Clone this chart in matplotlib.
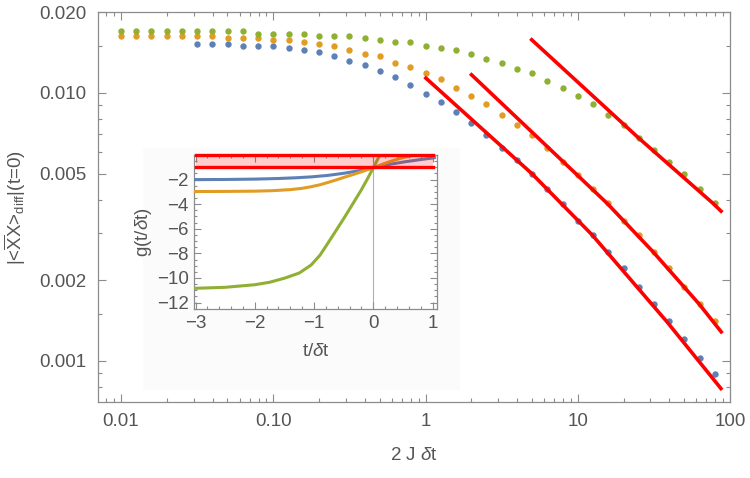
import matplotlib
matplotlib.use('Agg')
import matplotlib.pyplot as plt
import matplotlib.patches as mpatches
from matplotlib.ticker import FixedLocator, NullFormatter

plt.rcParams['font.family'] = ['Liberation Sans', 'DejaVu Sans']
plt.rcParams['mathtext.fontset'] = 'custom'
plt.rcParams['mathtext.rm'] = 'Liberation Sans'
plt.rcParams['mathtext.it'] = 'Liberation Sans:italic'

# x grid of the dots (2 J dt), 0.01 ... 79.4
dt = [0.0100, 0.0126, 0.0158, 0.0200, 0.0251, 0.0316, 0.0398, 0.0501, 0.0631, 0.0794,
      0.100, 0.126, 0.158, 0.200, 0.251, 0.316, 0.398, 0.501, 0.631, 0.794,
      1.00, 1.26, 1.58, 2.00, 2.51, 3.16, 3.98, 5.01, 6.31, 7.94,
      10.0, 12.6, 15.8, 20.0, 25.1, 31.6, 39.8, 50.1, 63.1, 79.4]

# blue starts at dt[5]
blue = [0.01523, 0.01523, 0.01523, 0.01498, 0.01498, 0.01498, 0.01472, 0.01447, 0.01419, 0.01371,
        0.01321, 0.01277, 0.01208, 0.01145, 0.01067, 0.00994, 0.00926, 0.00846, 0.00773, 0.00694,
        0.00624, 0.00562, 0.00497, 0.00437, 0.00386, 0.00334, 0.00295, 0.002557, 0.002217, 0.001888,
        0.001636, 0.001414, 0.001205, 0.001024, 0.000893]
orange = [0.01638, 0.01638, 0.01638, 0.01638, 0.01638, 0.01638, 0.01638, 0.01610, 0.01610, 0.01610,
          0.01577, 0.01577, 0.01550, 0.01523, 0.01498, 0.01443, 0.01395, 0.01371, 0.01299, 0.01253,
          0.01188, 0.01125, 0.01048, 0.00973, 0.00908, 0.00831, 0.00758, 0.00694, 0.00624, 0.00551,
          0.00494, 0.00437, 0.00387, 0.00334, 0.00295, 0.00255, 0.002217, 0.001893, 0.001632, 0.001414]
green = [0.01699, 0.01699, 0.01699, 0.01699, 0.01699, 0.01699, 0.01699, 0.01699, 0.01699, 0.01666,
         0.01666, 0.01666, 0.01666, 0.01638, 0.01638, 0.01638, 0.01610, 0.01577, 0.01550, 0.01550,
         0.01498, 0.01472, 0.01447, 0.01395, 0.01344, 0.01299, 0.01229, 0.01188, 0.01106, 0.01048,
         0.00975, 0.00908, 0.00831, 0.00760, 0.00682, 0.00612, 0.00551, 0.00497, 0.00438, 0.00387]

# red asymptotes
red1_x = [0.985, 5.03, 12.45, 38.6, 88.6]
red1_y = [0.01148, 0.00498, 0.00295, 0.001398, 0.000780]
red2_x = [1.964, 15.61, 31.3, 62.6, 89.0]
red2_y = [0.01182, 0.00387, 0.00255, 0.001632, 0.001269]
red3_x = [4.88, 24.9, 77.4, 89.0]
red3_y = [0.01596, 0.00682, 0.00387, 0.003584]

# inset curves g(t/dt)
in_blue_t = [-3.0, -2.5, -2.0, -1.6, -1.3, -1.05, -0.77, -0.49, -0.21, 0.0, 0.25, 0.52, 0.78, 1.03]
in_blue_g = [-2.0, -1.99, -1.96, -1.91, -1.85, -1.78, -1.66, -1.48, -1.25, -1.03, -0.78, -0.56, -0.38, -0.22]
in_orange_t = [-3.0, -2.5, -2.0, -1.7, -1.39, -1.2, -1.05, -0.9, -0.77, -0.63, -0.49, -0.35, -0.21,
               -0.1, 0.0, 0.15, 0.30, 0.45, 0.63, 0.8]
in_orange_g = [-2.97, -2.96, -2.94, -2.9, -2.81, -2.71, -2.58, -2.42, -2.24, -2.03, -1.81, -1.60, -1.38,
               -1.2, -1.03, -0.76, -0.5, -0.28, -0.07, 0.12]
in_green_t = [-3.0, -2.5, -2.0, -1.75, -1.5, -1.25, -1.05, -0.9, -0.77, -0.65, -0.49, -0.35, -0.21,
              -0.1, 0.0, 0.1, 0.2]
in_green_g = [-10.84, -10.76, -10.55, -10.35, -10.02, -9.6, -8.95, -8.15, -7.2, -6.3, -5.1, -4.0, -2.9,
              -1.95, -1.03, -0.1, 0.8]

C_BLUE = '#5E81B5'
C_ORANGE = '#E19C24'
C_GREEN = '#8FB032'
TXT = '#555555'
FRAME = '#8c8c8c'

fig = plt.figure(figsize=(7.5, 4.78), dpi=100)
ax = fig.add_axes([0.1303, 0.159, 0.8431, 0.8153])

ax.plot(dt[5:], blue, 'o', color=C_BLUE, ms=4.6, mec='none', zorder=3)
ax.plot(dt, orange, 'o', color=C_ORANGE, ms=4.6, mec='none', zorder=3)
ax.plot(dt, green, 'o', color=C_GREEN, ms=4.6, mec='none', zorder=3)
for xs, ys in [(red1_x, red1_y), (red2_x, red2_y), (red3_x, red3_y)]:
    ax.plot(xs, ys, color='red', lw=2.6, solid_capstyle='butt', zorder=4)

ax.set_xscale('log')
ax.set_yscale('log')
ax.set_xlim(0.00703, 100)
ax.set_ylim(0.000703, 0.0200)

ax.xaxis.set_major_locator(FixedLocator([0.01, 0.1, 1, 10, 100]))
ax.set_xticklabels(['0.01', '0.10', '1', '10', '100'])
xminor = [m * 10.0 ** e for e in range(-3, 2) for m in range(2, 10)]
ax.xaxis.set_minor_locator(FixedLocator(xminor))
ax.xaxis.set_minor_formatter(NullFormatter())
ax.yaxis.set_major_locator(FixedLocator([0.001, 0.002, 0.005, 0.01, 0.02]))
ax.set_yticklabels(['0.001', '0.002', '0.005', '0.010', '0.020'])
ax.yaxis.set_minor_locator(FixedLocator([0.0007, 0.0008, 0.0009, 0.0015, 0.003, 0.004,
                                         0.006, 0.007, 0.008, 0.009, 0.015]))
ax.yaxis.set_minor_formatter(NullFormatter())

ax.tick_params(which='both', direction='in', top=True, right=True, colors=FRAME,
               labelcolor=TXT, labelsize=13.5, width=0.8)
ax.tick_params(which='major', length=6, pad=8)
ax.tick_params(which='minor', length=3)
for s in ax.spines.values():
    s.set_color(FRAME)
    s.set_linewidth(0.9)

ax.set_xlabel('2 J $\\mathit{\\delta}$t', fontsize=13.5, color=TXT, labelpad=12)
ax.set_ylabel('|<$\\overline{\\mathrm{X}}$X>$_{\\mathrm{diff}}$|(t=0)',
              fontsize=13.5, color=TXT, labelpad=8)

# faint backdrop behind the inset
fig.patches.append(mpatches.Rectangle((143 / 750, 1 - 390 / 478), 317 / 750, 242 / 478,
                                      transform=fig.transFigure, facecolor='#fbfbfb',
                                      edgecolor='none', zorder=2))

ins = fig.add_axes([0.2591, 0.3529, 0.3232, 0.3228])
ins.set_zorder(5)
ins.plot(in_blue_t, in_blue_g, color=C_BLUE, lw=2.2, zorder=3)
ins.plot(in_orange_t, in_orange_g, color=C_ORANGE, lw=2.2, zorder=3)
ins.plot(in_green_t, in_green_g, color=C_GREEN, lw=2.2, zorder=3)
ins.axvline(0, color='#b0b0b0', lw=0.8, zorder=1)
ins.fill_between([-3, 1], [-1, -1], [0, 0], color='red', alpha=0.2, lw=0, zorder=4)
ins.plot([-3, 1], [0, 0], color='red', lw=2.4, zorder=5, clip_on=False)
ins.plot([-3, 1], [-1, -1], color='red', lw=2.4, zorder=5)
ins.set_xlim(-3.02, 1.07)
ins.set_ylim(-12.55, 0)
ins.set_xticks([-3, -2, -1, 0, 1])
ins.set_xticklabels(['\u22123', '\u22122', '\u22121', '0', '1'])
ins.set_yticks([-2, -4, -6, -8, -10, -12])
ins.set_yticklabels(['\u22122', '\u22124', '\u22126', '\u22128', '\u221210', '\u221212'])
ins.set_xticks([v / 5 - 3 for v in range(0, 21)], minor=True)
ins.set_yticks([-12.5 + v / 2 for v in range(0, 26)], minor=True)
ins.tick_params(which='both', direction='in', top=True, right=True, colors=FRAME,
                labelcolor=TXT, labelsize=13.5, width=0.8)
ins.tick_params(which='major', length=5, pad=4)
ins.tick_params(which='minor', length=2.5)
for s in ins.spines.values():
    s.set_color(FRAME)
    s.set_linewidth(0.9)
ins.set_facecolor('white')
ins.set_xlabel('t/$\\mathit{\\delta}$t', fontsize=13.5, color=TXT, labelpad=8)
ins.set_ylabel('g(t/$\\mathit{\\delta}$t)', fontsize=13.5, color=TXT, labelpad=2)

fig.savefig('out.png', dpi=100)
